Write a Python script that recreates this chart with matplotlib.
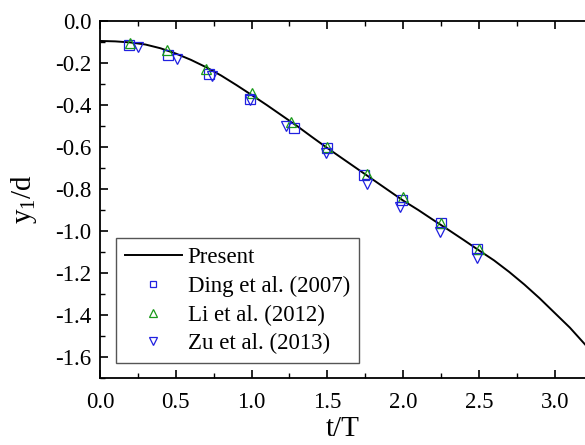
import matplotlib.pyplot as plt
from matplotlib.ticker import MultipleLocator

plt.rcParams['font.family'] = ['Liberation Serif', 'DejaVu Serif']
plt.rcParams['mathtext.fontset'] = 'custom'
plt.rcParams['mathtext.rm'] = 'Liberation Serif'
plt.rcParams['mathtext.it'] = 'Liberation Serif'
plt.rcParams['axes.unicode_minus'] = False

# Present solution
t_present = [0.0, 0.1, 0.2, 0.3, 0.4, 0.5, 0.6, 0.7, 0.8, 0.9, 1.0, 1.1, 1.2, 1.3,
             1.4, 1.5, 1.6, 1.7, 1.8, 1.9, 2.0, 2.1, 2.2, 2.3, 2.4, 2.5, 2.6, 2.7,
             2.8, 2.9, 3.0, 3.1, 3.2]
y_present = [-0.095, -0.097, -0.102, -0.112, -0.130, -0.155, -0.185, -0.220, -0.260,
             -0.305, -0.352, -0.400, -0.450, -0.500, -0.553, -0.605, -0.655, -0.705,
             -0.755, -0.805, -0.855, -0.900, -0.948, -0.995, -1.043, -1.092, -1.140,
             -1.195, -1.255, -1.320, -1.390, -1.460, -1.540]

# Ding et al. (2007)
t_ding = [0.19, 0.45, 0.72, 0.99, 1.28, 1.50, 1.74, 1.99, 2.25, 2.49]
y_ding = [-0.114, -0.160, -0.250, -0.370, -0.510, -0.606, -0.735, -0.850, -0.963, -1.087]

# Li et al. (2012)
t_li = [0.20, 0.44, 0.70, 1.00, 1.26, 1.50, 1.76, 2.00, 2.25, 2.50]
y_li = [-0.103, -0.140, -0.230, -0.345, -0.480, -0.600, -0.730, -0.840, -0.960, -1.085]

# Zu et al. (2013)
t_zu = [0.25, 0.51, 0.74, 0.99, 1.23, 1.49, 1.76, 1.98, 2.24, 2.49]
y_zu = [-0.123, -0.180, -0.260, -0.375, -0.500, -0.630, -0.775, -0.885, -1.005, -1.130]

fig = plt.figure(figsize=(5.85, 4.45), dpi=100)
# axes: left edge x=100px, top y=21px, bottom y=378px, runs off the right edge
ax = fig.add_axes([100 / 585, 1 - 378 / 445, 485 / 585, 357 / 445])

ax.plot(t_present, y_present, color='black', lw=1.4, label='Present')
ax.plot(t_ding, y_ding, 's', mfc='none', mec='#2020e0', ms=7, mew=0.9,
        label='Ding et al. (2007)')
ax.plot(t_li, y_li, '^', mfc='none', mec='#1a9a1a', ms=7.5, mew=0.9,
        label='Li et al. (2012)')
ax.plot(t_zu, y_zu, 'v', mfc='none', mec='#2020e0', ms=7.5, mew=0.9,
        label='Zu et al. (2013)')

ax.set_xlim(0, 3.2)
ax.set_ylim(-1.7, 0.0)
ax.xaxis.set_major_locator(MultipleLocator(0.5))
ax.xaxis.set_minor_locator(MultipleLocator(0.25))
ax.yaxis.set_major_locator(MultipleLocator(0.2))
ax.yaxis.set_minor_locator(MultipleLocator(0.1))
ax.tick_params(which='both', direction='in', top=True, right=False, labelsize=16.5)
ax.tick_params(which='major', length=6, width=1.2, pad=6)
ax.tick_params(which='minor', length=3.5, width=1.0)
ax.tick_params(axis='x', which='major', pad=10)
ax.spines['right'].set_visible(False)
for s in ['left', 'bottom', 'top']:
    ax.spines[s].set_linewidth(1.3)

ax.set_xlabel('t/T', fontsize=21, labelpad=2)
ax.set_ylabel(r'y$_{1}$/d', fontsize=21, labelpad=12)

leg = ax.legend(loc='lower left', bbox_to_anchor=(16 / 485, 15 / 357), borderaxespad=0,
                fontsize=16.5, fancybox=False, edgecolor='#555555', handlelength=2.5,
                markerscale=0.7, borderpad=0.38, labelspacing=0.33,
                handletextpad=0.25, framealpha=1)
leg.get_frame().set_linewidth(1.0)

fig.savefig('out.png', dpi=100)
